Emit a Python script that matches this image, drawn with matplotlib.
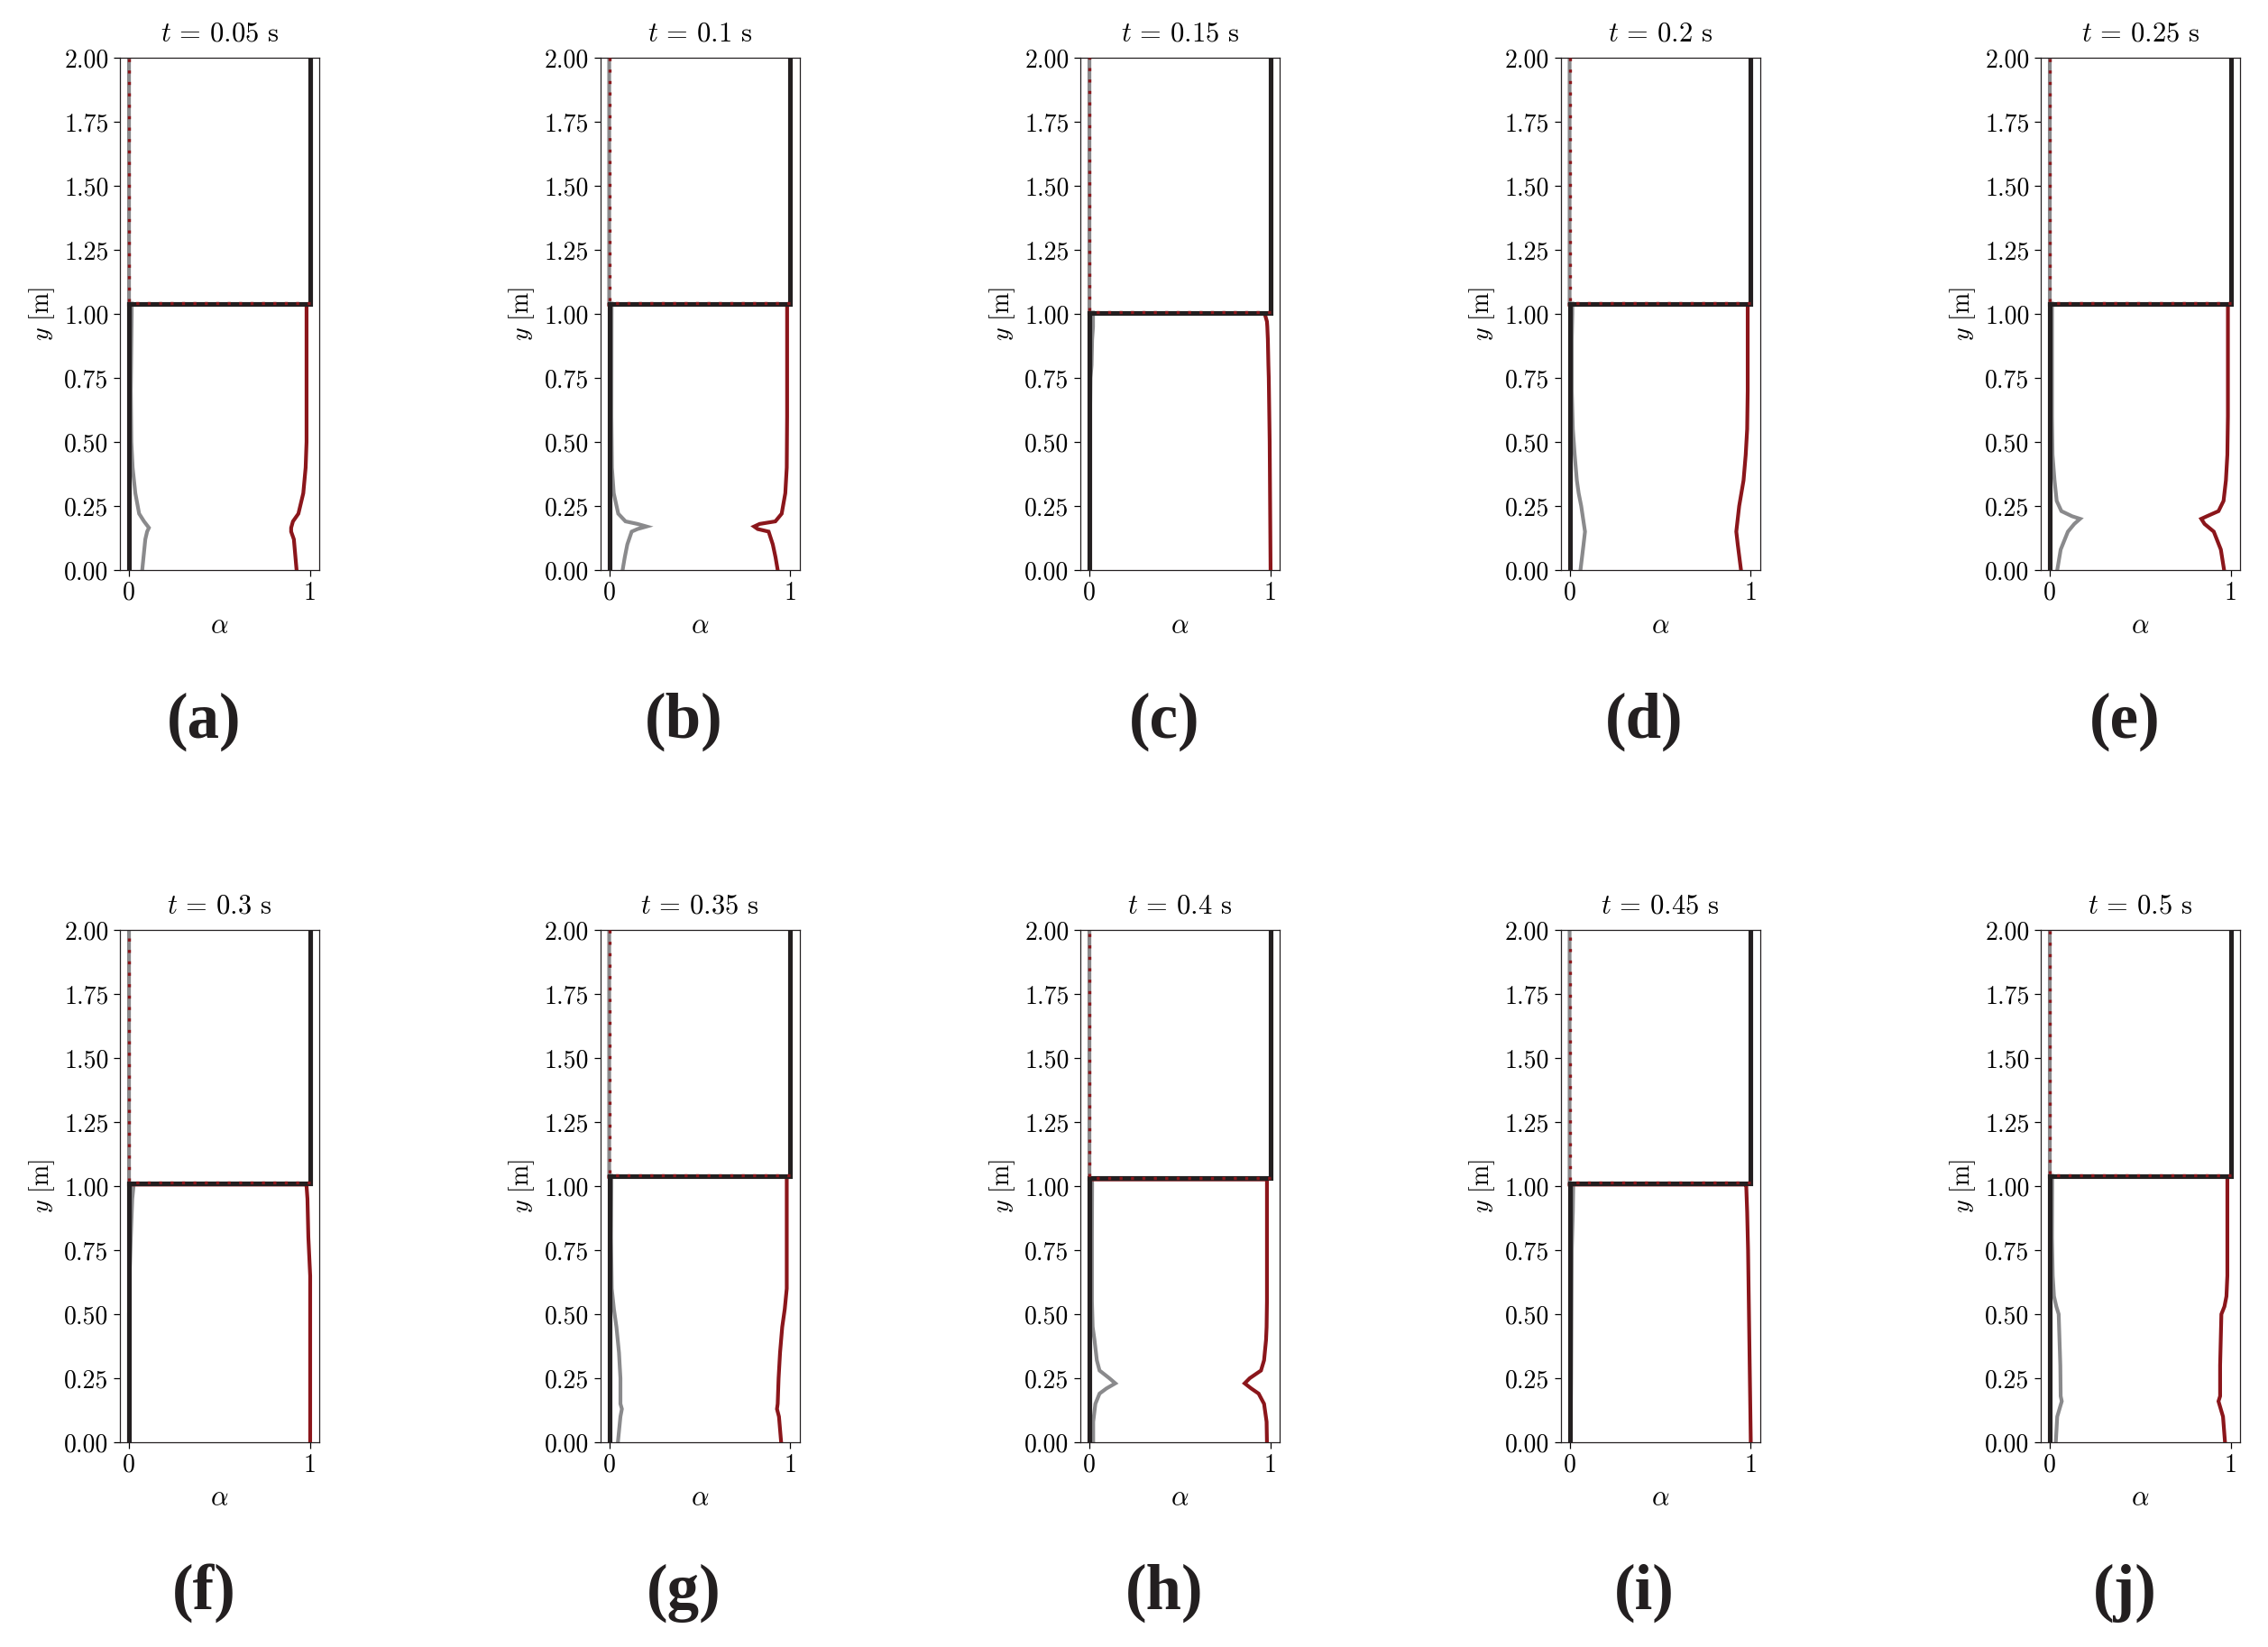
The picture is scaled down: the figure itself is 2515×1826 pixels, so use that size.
import matplotlib
matplotlib.use("Agg")
import matplotlib.pyplot as plt
import numpy as np

plt.rcParams['font.family'] = 'serif'
plt.rcParams['font.serif'] = ['cmr10']
plt.rcParams['mathtext.fontset'] = 'cm'
plt.rcParams['axes.formatter.use_mathtext'] = True

# ---------------- data ----------------
times = ["0.05", "0.1", "0.15", "0.2", "0.25", "0.3", "0.35", "0.4", "0.45", "0.5"]
panel_letters = ["(a)", "(b)", "(c)", "(d)", "(e)", "(f)", "(g)", "(h)", "(i)", "(j)"]
interface_height = [1.04, 1.04, 1.005, 1.04, 1.04, 1.01, 1.04, 1.03, 1.01, 1.04]

y_a = [0.0, 0.12, 0.15, 0.165, 0.19, 0.22, 0.30, 0.40, 0.50, 0.70, 1.00]
gray_a = [0.073, 0.09, 0.10, 0.11, 0.083, 0.056, 0.035, 0.02, 0.013, 0.01, 0.015]
red_a = [0.925, 0.91, 0.895, 0.895, 0.905, 0.935, 0.962, 0.975, 0.98, 0.98, 0.98]

y_b = [0.0, 0.05, 0.10, 0.15, 0.16, 0.17, 0.18, 0.19, 0.22, 0.30, 0.40, 0.60, 1.00]
gray_b = [0.074, 0.086, 0.10, 0.124, 0.156, 0.206, 0.156, 0.09, 0.05, 0.025, 0.015, 0.012, 0.013]
red_b = [0.93, 0.918, 0.903, 0.88, 0.82, 0.80, 0.83, 0.917, 0.952, 0.972, 0.98, 0.982, 0.982]

y_c = [0.0, 0.50, 0.75, 0.80, 0.90, 0.95, 0.97, 0.995]
gray_c = [0.0, 0.002, 0.006, 0.012, 0.015, 0.02, 0.02, 0.02]
red_c = [1.0, 0.995, 0.99, 0.988, 0.985, 0.982, 0.98, 0.97]

y_d = [0.0, 0.10, 0.15, 0.25, 0.30, 0.35, 0.45, 0.55, 0.70, 0.90, 1.00]
gray_d = [0.06, 0.077, 0.085, 0.064, 0.05, 0.04, 0.028, 0.018, 0.012, 0.012, 0.015]
red_d = [0.946, 0.928, 0.92, 0.936, 0.948, 0.96, 0.972, 0.98, 0.983, 0.983, 0.983]

y_e = [0.0, 0.08, 0.15, 0.18, 0.20, 0.21, 0.23, 0.27, 0.35, 0.45, 0.60, 1.00]
gray_e = [0.041, 0.06, 0.10, 0.135, 0.167, 0.123, 0.064, 0.038, 0.026, 0.015, 0.012, 0.012]
red_e = [0.962, 0.944, 0.905, 0.854, 0.836, 0.867, 0.931, 0.959, 0.972, 0.98, 0.983, 0.983]

y_f = [0.0, 0.50, 0.65, 0.80, 0.95, 1.00]
gray_f = [0.0, 0.0, 0.003, 0.01, 0.018, 0.025]
red_f = [1.0, 1.0, 1.0, 0.99, 0.985, 0.98]

y_g = [0.0, 0.10, 0.13, 0.15, 0.25, 0.35, 0.45, 0.52, 0.60, 0.80, 1.00]
gray_g = [0.048, 0.062, 0.07, 0.062, 0.062, 0.054, 0.04, 0.026, 0.014, 0.01, 0.012]
red_g = [0.949, 0.937, 0.926, 0.93, 0.935, 0.943, 0.955, 0.969, 0.98, 0.98, 0.98]

y_h = [0.0, 0.08, 0.15, 0.19, 0.21, 0.23, 0.25, 0.28, 0.32, 0.40, 0.45, 0.55, 0.80, 1.00]
gray_h = [0.021, 0.021, 0.033, 0.056, 0.094, 0.143, 0.11, 0.056, 0.041, 0.028, 0.018, 0.014, 0.014, 0.015]
red_h = [0.98, 0.978, 0.964, 0.934, 0.893, 0.857, 0.885, 0.947, 0.964, 0.975, 0.978, 0.98, 0.98, 0.98]

y_i = [0.0, 0.25, 0.50, 0.75, 0.90, 1.00]
gray_i = [0.005, 0.008, 0.01, 0.012, 0.018, 0.02]
red_i = [1.0, 0.995, 0.99, 0.985, 0.98, 0.975]

y_j = [0.0, 0.10, 0.16, 0.18, 0.30, 0.50, 0.53, 0.57, 0.65, 0.80, 1.00]
gray_j = [0.033, 0.041, 0.066, 0.06, 0.058, 0.049, 0.036, 0.023, 0.016, 0.012, 0.013]
red_j = [0.967, 0.956, 0.931, 0.94, 0.94, 0.947, 0.964, 0.975, 0.98, 0.98, 0.98]

y_lists = [y_a, y_b, y_c, y_d, y_e, y_f, y_g, y_h, y_i, y_j]
gray_lists = [gray_a, gray_b, gray_c, gray_d, gray_e, gray_f, gray_g, gray_h, gray_i, gray_j]
red_lists = [red_a, red_b, red_c, red_d, red_e, red_f, red_g, red_h, red_i, red_j]

yticks = [0.0, 0.25, 0.5, 0.75, 1.0, 1.25, 1.5, 1.75, 2.0]
ytick_labels = ["0.00", "0.25", "0.50", "0.75", "1.00", "1.25", "1.50", "1.75", "2.00"]
xticks = [0, 1]
xtick_labels = ["0", "1"]
y_top = 2.0

# ---------------- style ----------------
C_BLACK = "#231f20"
C_GRAY = "#8a8a8c"
C_RED = "#8b161b"

W, H = 2515, 1826
fig = plt.figure(figsize=(W / 100, H / 100), dpi=100)

ax_w = 221 / W
ax_h = 568 / H
lefts = [(133 + 532.5 * i) / W for i in range(5)]
bottoms = [1 - 632 / H, 1 - 1599 / H]
letter_x = [(226 + 532.5 * i) / W for i in range(5)]
letter_y = [1 - 800 / H, 1 - 1766 / H]

for k in range(10):
    r, c = divmod(k, 5)
    ax = fig.add_axes([lefts[c], bottoms[r], ax_w, ax_h])
    h = interface_height[k]
    yv = list(y_lists[k])
    gv = list(gray_lists[k])
    rv = list(red_lists[k])

    # numerical dispersed phase (gray)
    ax.plot(gv + [gv[-1], 0.0, 0.0], yv + [h, h, y_top], color=C_GRAY, lw=3.0,
            solid_joinstyle='miter', zorder=2)
    # numerical liquid phase (red)
    ax.plot(rv + [rv[-1], 0.0], yv + [h - 0.004, h - 0.004], color=C_RED, lw=3.0,
            solid_joinstyle='miter', zorder=3)
    # analytical gas phase (black step)
    ax.plot([0, 0, 1, 1], [0, h, h, y_top], color=C_BLACK, lw=3.7,
            solid_joinstyle='miter', zorder=4)
    # analytical liquid phase (red dashed)
    ax.plot([1, 0, 0], [h + 0.003, h + 0.003, y_top], color=C_RED, lw=2.4,
            dashes=(1.0, 2.8), zorder=5)

    ax.set_xlim(-0.05, 1.05)
    ax.set_ylim(0, y_top)
    ax.set_yticks(yticks)
    ax.set_yticklabels(ytick_labels)
    ax.set_xticks(xticks)
    ax.set_xticklabels(xtick_labels)
    ax.tick_params(axis='both', direction='out', length=5, width=0.9,
                   labelsize=20, pad=4, top=False, right=False)
    for sp in ax.spines.values():
        sp.set_linewidth(0.9)
        sp.set_color(C_BLACK)
    ax.set_xlabel(r"$\alpha$", fontsize=22, labelpad=7)
    ax.set_ylabel(r"$y$ [m]", fontsize=20, labelpad=6)
    ax.set_title(r"$t\, =\, $" + times[k] + " s", fontsize=22, pad=13)

    fig.text(letter_x[c], letter_y[r], panel_letters[k], ha='center', va='center',
             fontsize=51, fontweight='bold', family='Liberation Serif', color=C_BLACK)

fig.savefig("out.png", dpi=100)
